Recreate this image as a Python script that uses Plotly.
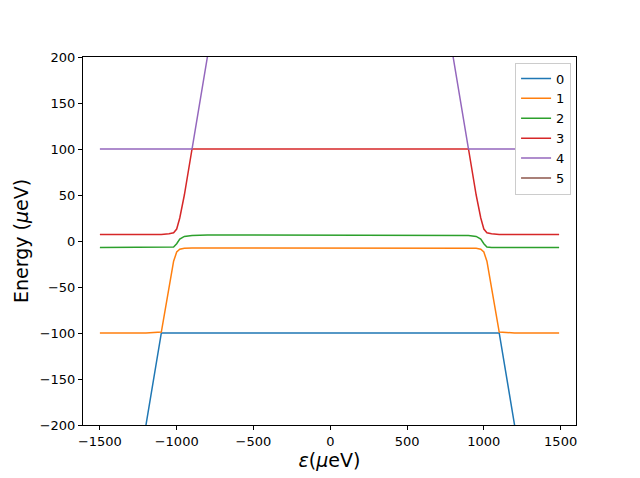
import plotly.graph_objects as go

x = [-1500, -1200, -1100, -1050, -1020, -1000, -980, -950, -900, -800, 0,
     800, 900, 950, 980, 1000, 1020, 1050, 1100, 1200, 1490]
level0 = [-500, -200, -100, -100, -100, -100, -100, -100, -100, -100, -100,
          -100, -100, -100, -100, -100, -100, -100, -100, -200, -490]
level1 = [-100, -100, -99, -50, -22, -12, -9, -8, -7.5, -7.5, -7.5,
          -7.5, -7.5, -8, -9, -12, -22, -50, -99, -100, -100]
level2 = [-7, -7, -7, -7, -6.5, -3, 2, 5, 6, 6.5, 6.5,
          6.5, 6, 5, 2, -3, -6.5, -7, -7, -7, -7]
level3 = [7, 7, 7, 8, 9, 13, 25, 50, 100, 100, 100,
          100, 100, 50, 25, 13, 9, 8, 7, 7, 7]
level4 = [100, 100, 100, 100, 100, 100, 100, 100, 100, 200, 1000,
          200, 100, 100, 100, 100, 100, 100, 100, 100, 100]
level5 = [1100, 1100, 1100, 1100, 1100, 1100, 1100, 1100, 1100, 1100, 1100,
          1100, 1100, 1100, 1100, 1100, 1100, 1100, 1100, 1100, 1100]
names = ["0", "1", "2", "3", "4", "5"]
colors = ["#1f77b4", "#ff7f0e", "#2ca02c", "#d62728", "#9467bd", "#8c564b"]

fig = go.Figure()
for n, ys, c in zip(names, [level0, level1, level2, level3, level4, level5], colors):
    fig.add_trace(go.Scatter(x=x, y=ys, mode="lines", name=n,
                             line=dict(color=c, width=1.5)))

axis = dict(showline=True, linecolor="black", linewidth=1, mirror=True,
            ticks="outside", ticklen=4, tickcolor="black", showgrid=False,
            zeroline=False, tickfont=dict(size=13, color="black"))
fig.update_layout(
    width=640, height=478, plot_bgcolor="white", paper_bgcolor="white",
    font=dict(family="DejaVu Sans", color="black"),
    margin=dict(l=72, r=72, t=49, b=61),
    xaxis=dict(axis, range=[-1610, 1600], tickvals=[-1500, -1000, -500, 0, 500, 1000, 1500],
               title=dict(text="<i>ε</i>(<i>μ</i>eV)", font=dict(size=19), standoff=6)),
    yaxis=dict(axis, range=[-200, 200], dtick=50,
               title=dict(text="Energy (<i>μ</i>eV)", font=dict(size=19), standoff=6)),
    legend=dict(x=0.99, y=0.985, xanchor="right", yanchor="top",
                bordercolor="#cccccc", borderwidth=1, bgcolor="white",
                font=dict(size=13), tracegroupgap=0),
)
fig.write_html("out.html")
